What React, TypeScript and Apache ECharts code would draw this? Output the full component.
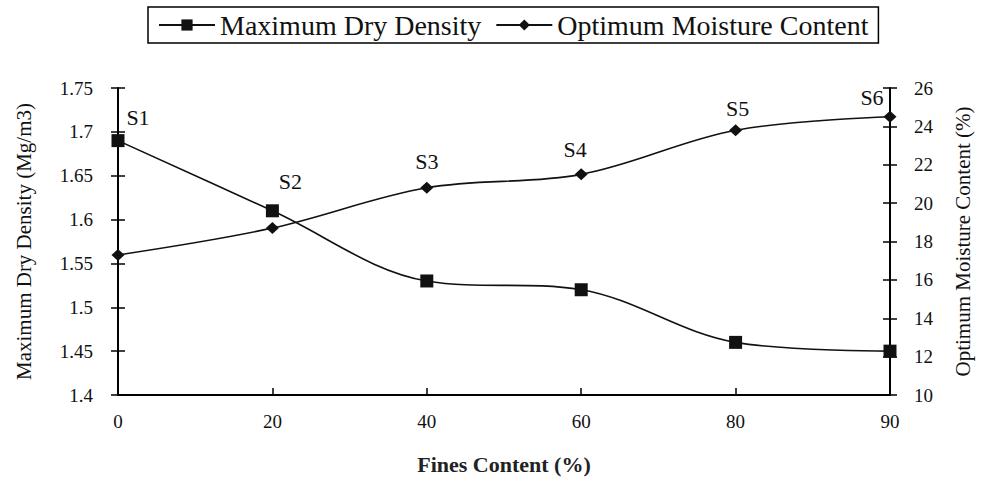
import React, { useEffect, useRef } from "react";
import * as echarts from "echarts";

const fines = ["0", "20", "40", "60", "80", "90"];
const maxDryDensity = [1.69, 1.61, 1.53, 1.52, 1.46, 1.45];
const optimumMoisture = [17.3, 18.7, 20.8, 21.5, 23.8, 24.5];
const sampleLabels = ["S1", "S2", "S3", "S4", "S5", "S6"];
const labelOnSeries = ["mdd", "mdd", "omc", "omc", "omc", "omc"];

const labelOffsets: number[][] = [
  [20, -23],
  [18, -29],
  [0, -26],
  [-6, -25],
  [2, -22],
  [-18, -19],
];

const FONT = "Liberation Serif";

function buildData(values: number[], key: string) {
  return values.map((v, i) =>
    labelOnSeries[i] === key
      ? {
          value: v,
          label: {
            show: true,
            position: "inside",
            formatter: sampleLabels[i],
            offset: labelOffsets[i],
            fontFamily: FONT,
            fontSize: 22,
            color: "#111",
          },
        }
      : v
  );
}

export default function App() {
  const ref = useRef<HTMLDivElement>(null);
  useEffect(() => {
    if (!ref.current) return;
    const chart = echarts.init(ref.current, null, { renderer: "svg" });
    const axisLine = { show: true, lineStyle: { color: "#000", width: 2 } };
    const tickStyle = { color: "#000", width: 1.5 };
    const labelStyle = { fontFamily: FONT, fontSize: 19, color: "#111" };
    chart.setOption({
      animation: false,
      backgroundColor: "#fff",
      legend: {
        left: 148,
        top: 7,
        padding: [4, 10, 4, 10],
        borderColor: "#000",
        borderWidth: 1.5,
        itemWidth: 56,
        itemHeight: 14,
        itemGap: 14,
        textStyle: { fontFamily: FONT, fontSize: 28, color: "#111" },
        data: ["Maximum Dry Density", "Optimum Moisture Content"],
      },
      grid: { left: 118, right: 81, top: 88, bottom: 84 },
      xAxis: {
        type: "category",
        data: fines,
        boundaryGap: false,
        axisLine,
        axisTick: { show: true, inside: true, length: 7, lineStyle: tickStyle },
        axisLabel: { ...labelStyle, margin: 17 },
        splitLine: { show: false },
        name: "Fines Content (%)",
        nameLocation: "middle",
        nameGap: 58,
        nameTextStyle: { fontFamily: FONT, fontSize: 22, fontWeight: "bold", color: "#222" },
      },
      yAxis: [
        {
          type: "value",
          position: "left",
          min: 1.4,
          max: 1.75,
          interval: 0.05,
          axisLine,
          axisTick: { show: true, length: 7, lineStyle: tickStyle },
          axisLabel: {
            ...labelStyle,
            margin: 25,
            formatter: (v: number) => String(parseFloat(v.toFixed(2))),
          },
          splitLine: { show: false },
          name: "Maximum Dry Density (Mg/m3)",
          nameLocation: "middle",
          nameRotate: 90,
          nameGap: 84,
          nameTextStyle: { fontFamily: FONT, fontSize: 21, color: "#111" },
        },
        {
          type: "value",
          position: "right",
          min: 10,
          max: 26,
          interval: 2,
          axisLine,
          axisTick: { show: true, length: 7, lineStyle: tickStyle },
          axisLabel: { ...labelStyle, margin: 24 },
          splitLine: { show: false },
          name: "Optimum Moisture Content (%)",
          nameLocation: "middle",
          nameRotate: 90,
          nameGap: 62,
          nameTextStyle: { fontFamily: FONT, fontSize: 21, color: "#111" },
        },
        {
          type: "value",
          position: "left",
          min: 1.4,
          max: 1.75,
          interval: 0.05,
          axisLine: { show: false },
          axisTick: { show: true, inside: true, length: 7, lineStyle: tickStyle },
          axisLabel: { show: false },
          splitLine: { show: false },
        },
        {
          type: "value",
          position: "right",
          min: 10,
          max: 26,
          interval: 2,
          axisLine: { show: false },
          axisTick: { show: true, inside: true, length: 7, lineStyle: tickStyle },
          axisLabel: { show: false },
          splitLine: { show: false },
        },
      ],
      series: [
        {
          name: "Maximum Dry Density",
          type: "line",
          yAxisIndex: 0,
          smooth: 0.35,
          symbol: "rect",
          symbolSize: 13,
          lineStyle: { color: "#111", width: 1.6 },
          itemStyle: { color: "#111" },
          data: buildData(maxDryDensity, "mdd"),
          z: 3,
        },
        {
          name: "Optimum Moisture Content",
          type: "line",
          yAxisIndex: 1,
          smooth: 0.35,
          symbol: "diamond",
          symbolSize: [13, 12],
          lineStyle: { color: "#111", width: 1.6 },
          itemStyle: { color: "#111" },
          data: buildData(optimumMoisture, "omc"),
          z: 3,
        },
      ],
    });
    return () => chart.dispose();
  }, []);
  return (
    <div
      ref={ref}
      style={{ position: "absolute", left: 0, top: 0, width: 981, height: 480 }}
    />
  );
}
